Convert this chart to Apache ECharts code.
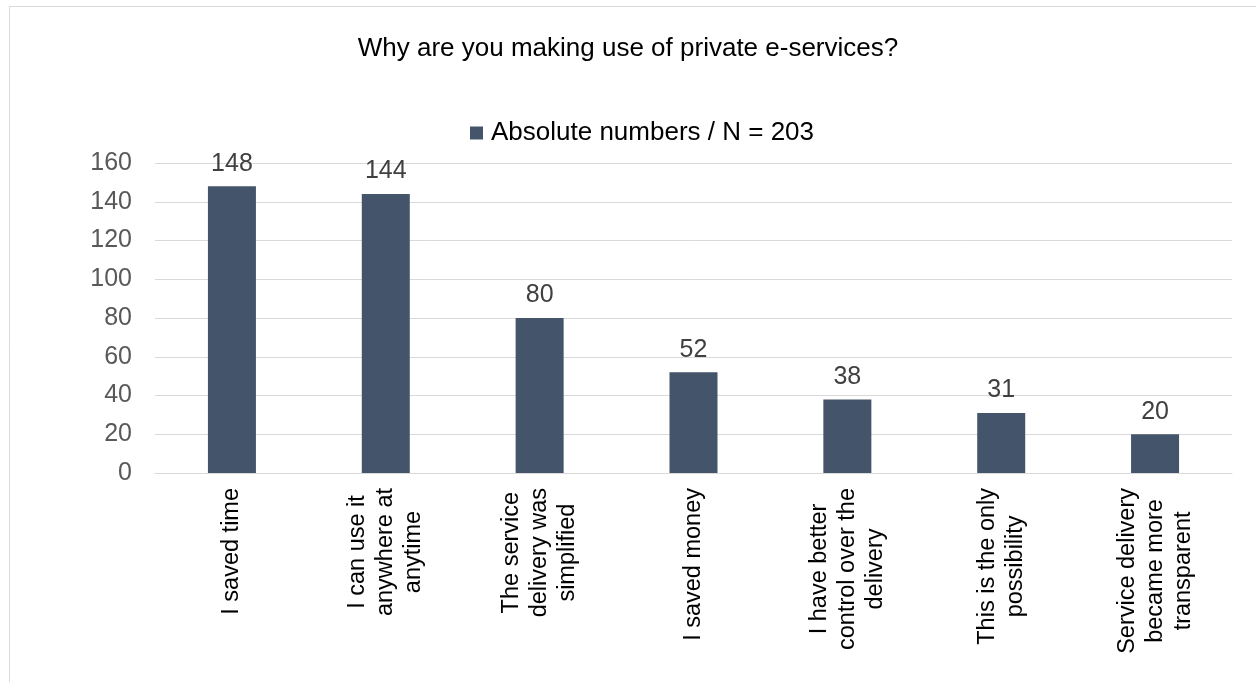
<!DOCTYPE html>
<html>
<head>
<meta charset="utf-8">
<script src="https://cdn.jsdelivr.net/npm/echarts@6/dist/echarts.min.js"></script>
<style>
  html, body { margin: 0; padding: 0; background: #ffffff; }
  #chart { width: 1256px; height: 682px; }
</style>
</head>
<body>
<div id="chart"></div>
<script>
// Survey answers: reasons for using private e-services
const categories = [
  'I saved time',
  'I can use it\nanywhere at\nanytime',
  'The service\ndelivery was\nsimplified',
  'I saved money',
  'I have better\ncontrol over the\ndelivery',
  'This is the only\npossibility',
  'Service delivery\nbecame more\ntransparent'
];
const counts = [148, 144, 80, 52, 38, 31, 20];
const seriesName = 'Absolute numbers / N = 203';
const subtitle = 'Why are you making use of private e-services?';

const FONT = '"Liberation Sans", Arial, sans-serif';
const GRID_COLOR = '#D9D9D9';
const BAR_COLOR = '#44546A';

const chart = echarts.init(document.getElementById('chart'), null, { renderer: 'canvas' });

chart.setOption({
  backgroundColor: '#ffffff',
  animation: false,
  textStyle: { fontFamily: FONT },
  graphic: [
    {
      // chart-area frame
      type: 'rect',
      silent: true,
      shape: { x: 9.5, y: 6.5, width: 1400, height: 800 },
      style: { fill: 'none', stroke: GRID_COLOR, lineWidth: 1 }
    }
  ],
  title: {
    text: subtitle,
    left: 'center',
    top: 31,
    textStyle: { fontFamily: FONT, fontSize: 26, fontWeight: 'normal', color: '#000000' }
  },
  legend: {
    top: 115,
    left: 465,
    itemWidth: 13,
    itemHeight: 13,
    itemGap: 10,
    icon: 'rect',
    textStyle: { fontFamily: FONT, fontSize: 26, color: '#000000', padding: [0, 0, 0, 3] },
    data: [seriesName]
  },
  grid: {
    left: 155,
    right: 24,
    top: 163,
    bottom: 682 - 473,
    containLabel: false
  },
  xAxis: {
    type: 'category',
    data: categories,
    axisTick: { show: false },
    axisLine: { lineStyle: { color: GRID_COLOR, width: 1 } },
    axisLabel: {
      interval: 0,
      rotate: 90,
      margin: 15,
      color: '#000000',
      fontSize: 23.5,
      lineHeight: 28,
      formatter: function (value) {
        return value.split('\n').map(function (s) { return '{c|' + s + '}'; }).join('\n');
      },
      rich: {
        c: { align: 'center', fontSize: 23.5, lineHeight: 28, color: '#000000', fontFamily: FONT }
      }
    }
  },
  yAxis: {
    type: 'value',
    min: 0,
    max: 160,
    interval: 20,
    axisLine: { show: false },
    axisTick: { show: false },
    splitLine: { lineStyle: { color: GRID_COLOR, width: 1 } },
    axisLabel: { color: '#595959', fontSize: 25, margin: 23 }
  },
  series: [
    {
      name: seriesName,
      type: 'bar',
      data: counts,
      barWidth: 48,
      itemStyle: { color: BAR_COLOR },
      label: {
        show: true,
        position: 'top',
        distance: 10,
        color: '#404040',
        fontSize: 25
      }
    }
  ]
});
</script>
</body>
</html>
